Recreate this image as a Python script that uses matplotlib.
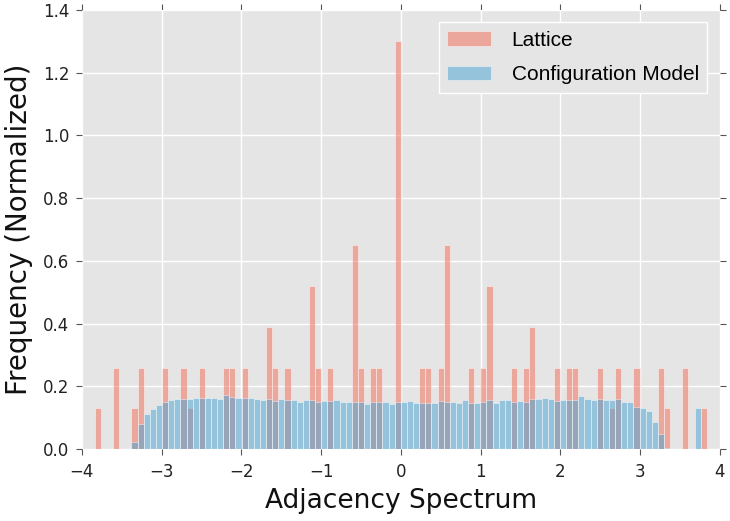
import numpy as np
import matplotlib
matplotlib.use('Agg')
import matplotlib.pyplot as plt

# histogram range shared by both series (100 bins)
bin_lo, bin_hi, n_bins = -3.838, 3.838, 100

# normalized frequency per bin, lattice
lattice = [0.13, 0, 0, 0.26, 0, 0, 0.13, 0.26, 0, 0,
           0, 0.26, 0, 0, 0.26, 0.13, 0, 0.26, 0, 0,
           0, 0.26, 0.26, 0, 0.26, 0, 0, 0, 0.39, 0.26,
           0, 0.26, 0, 0, 0, 0.52, 0.26, 0, 0.26, 0,
           0, 0, 0.65, 0.26, 0, 0.26, 0.26, 0, 0, 1.30,
           0, 0, 0, 0.26, 0.26, 0, 0.26, 0.65, 0, 0,
           0, 0.26, 0, 0.26, 0.52, 0, 0, 0, 0.26, 0,
           0.26, 0.39, 0, 0, 0, 0.26, 0, 0.26, 0.26, 0,
           0, 0, 0.26, 0, 0.13, 0.26, 0, 0, 0.26, 0,
           0, 0, 0.26, 0.13, 0, 0, 0.26, 0, 0, 0.13]

# normalized frequency per bin, configuration model
config = [0, 0, 0, 0, 0, 0, 0.022, 0.079, 0.112, 0.127,
          0.142, 0.151, 0.155, 0.160, 0.160, 0.160, 0.164, 0.162, 0.164, 0.164,
          0.161, 0.171, 0.165, 0.162, 0.162, 0.162, 0.159, 0.158, 0.160, 0.153,
          0.161, 0.158, 0.157, 0.151, 0.156, 0.155, 0.149, 0.152, 0.153, 0.156,
          0.151, 0.150, 0.151, 0.151, 0.144, 0.151, 0.149, 0.151, 0.145, 0.149,
          0.149, 0.153, 0.147, 0.148, 0.148, 0.147, 0.152, 0.151, 0.150, 0.147,
          0.158, 0.148, 0.148, 0.151, 0.157, 0.148, 0.155, 0.155, 0.149, 0.152,
          0.149, 0.159, 0.159, 0.162, 0.160, 0.153, 0.157, 0.155, 0.155, 0.169,
          0.160, 0.158, 0.160, 0.157, 0.157, 0.159, 0.151, 0.149, 0.133, 0.130,
          0.121, 0.086, 0.049, 0.005, 0, 0, 0, 0, 0.130, 0]

labels = ['Lattice', 'Configuration Model']

edges = np.linspace(bin_lo, bin_hi, n_bins + 1)
width = edges[1] - edges[0]

fig = plt.figure(figsize=(7.3, 5.21), dpi=100)
ax = fig.add_axes([0.112, 0.138, 0.874, 0.843])
ax.set_facecolor('#E5E5E5')
ax.set_axisbelow(True)
ax.grid(True, color='white', linewidth=1.0, linestyle='-')
for s in ax.spines.values():
    s.set_visible(False)

ax.bar(edges[:-1], lattice, width=width, align='edge', color='#F26A55', alpha=0.5,
       edgecolor='white', linewidth=0.6, label=labels[0])
ax.bar(edges[:-1], config, width=width, align='edge', color='#47A3D3', alpha=0.5,
       edgecolor='white', linewidth=0.6, label=labels[1])

ax.set_xlim(-4, 4)
ax.set_ylim(0, 1.4)
ax.set_xticks(range(-4, 5))
ax.set_yticks(np.arange(0, 1.41, 0.2))
ax.yaxis.set_major_formatter(plt.FormatStrFormatter('%.1f'))
ax.tick_params(direction='out', length=4, width=0.8, color='#555555',
               labelsize=12, labelcolor='#222222', top=True, right=True)
ax.tick_params(axis='x', pad=6)
ax.tick_params(axis='y', pad=5)

ax.set_xlabel('Adjacency Spectrum', fontsize=19, color='#111111', labelpad=5)
ax.set_ylabel('Frequency (Normalized)', fontsize=20, color='#111111', labelpad=7)

leg = ax.legend(loc='upper right', prop={'family': 'Liberation Sans', 'size': 15},
                facecolor='#E5E5E5', edgecolor='white', framealpha=1.0,
                fancybox=False, borderpad=0.4, handlelength=2.1,
                handletextpad=1.0, labelspacing=0.75, borderaxespad=0.6)
leg.get_frame().set_linewidth(1.0)

fig.savefig('out.png', dpi=100)
